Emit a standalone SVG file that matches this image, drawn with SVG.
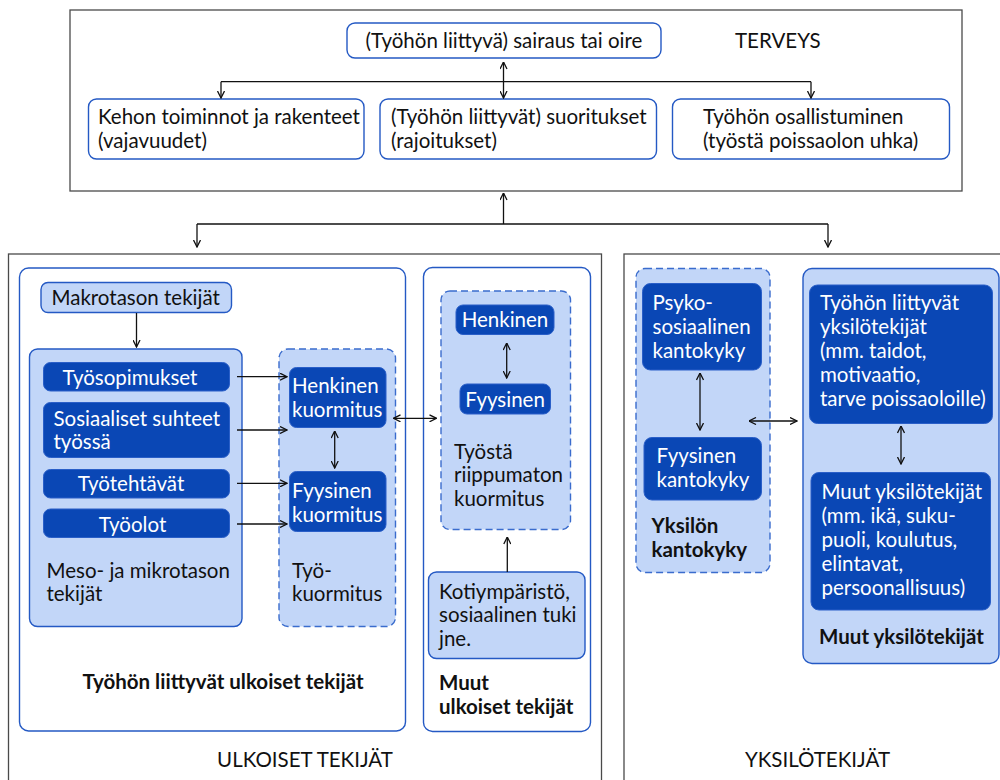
<svg xmlns="http://www.w3.org/2000/svg" width="1000" height="780" viewBox="0 0 1000 780">
  <defs>
    <style>
      text { font-family: Lato, "Liberation Sans", sans-serif; font-size: 20.5px; fill: #111; }
      .w { fill: #fff; }
      .b { font-weight: bold; }
      .mid { text-anchor: middle; }
      .frame { fill: none; stroke: #4a4a4a; stroke-width: 1.3; }
      .panel { fill: #fff; stroke: #2459c4; stroke-width: 1.4; }
      .light { fill: #c2d6f8; stroke: #2459c4; stroke-width: 1.4; }
      .dash { fill: #c2d6f8; stroke: #3a6ccd; stroke-width: 1.4; stroke-dasharray: 7 4; }
      .dark { fill: #0a47b5; stroke: #2a5fc8; stroke-width: 1; }
      .con { fill: none; stroke: #111; stroke-width: 1.3; }
    </style>
    <marker id="arr" viewBox="0 0 8 8" refX="7.5" refY="4" markerWidth="8" markerHeight="8" markerUnits="userSpaceOnUse" orient="auto-start-reverse">
      <path d="M0.5,0.5 L7.5,4 L0.5,7.5" fill="none" stroke="#111" stroke-width="1.3"/>
    </marker>
  </defs>

  <!-- outer frames -->
  <g id="terveys">
    <rect class="frame" x="70" y="10" width="892" height="181"/>
    <text x="735" y="48">TERVEYS</text>
  </g>
  <g id="ulkoiset">
    <rect class="frame" x="8.5" y="254" width="593" height="560"/>
    <text class="mid" x="305" y="767">ULKOISET TEKIJÄT</text>
  </g>
  <g id="yksilotekijat">
    <rect class="frame" x="624" y="254" width="420" height="560"/>
    <text class="mid" x="817.5" y="767">YKSILÖTEKIJÄT</text>
  </g>

  <!-- health row -->
  <g id="sairaus">
    <rect class="panel" x="347" y="23" width="314" height="35" rx="8"/>
    <text class="mid" x="504" y="48">(Työhön liittyvä) sairaus tai oire</text>
  </g>
  <g id="kehon">
    <rect class="panel" x="88.5" y="99" width="275.5" height="60" rx="8"/>
    <text x="98" y="124">Kehon toiminnot ja rakenteet</text>
    <text x="98" y="147.5">(vajavuudet)</text>
  </g>
  <g id="suoritukset">
    <rect class="panel" x="380" y="99" width="276.5" height="60" rx="8"/>
    <text x="391" y="124">(Työhön liittyvät) suoritukset</text>
    <text x="391" y="147.5">(rajoitukset)</text>
  </g>
  <g id="osallistuminen">
    <rect class="panel" x="672.5" y="99" width="277" height="60" rx="8"/>
    <text x="703" y="124">Työhön osallistuminen</text>
    <text x="703" y="147.5">(työstä poissaolon uhka)</text>
  </g>

  <!-- work-related external factors -->
  <g id="tyohon-liittyvat">
    <rect class="panel" x="19.5" y="268" width="386" height="463" rx="9"/>
    <text class="b mid" x="223" y="689">Työhön liittyvät ulkoiset tekijät</text>
  </g>
  <g id="makrotaso">
    <rect class="light" x="41" y="282.5" width="190.5" height="30" rx="7"/>
    <text x="51.5" y="304.5">Makrotason tekijät</text>
  </g>
  <g id="mesotaso">
    <rect class="light" x="29.5" y="349" width="212.5" height="277.5" rx="8"/>
    <text x="46.5" y="577.5">Meso- ja mikrotason</text>
    <text x="46.5" y="601">tekijät</text>
  </g>
  <g id="tyosopimukset">
    <rect class="dark" x="43.5" y="362.5" width="186" height="28.5" rx="7"/>
    <text class="w mid" x="130" y="384.5">Työsopimukset</text>
  </g>
  <g id="sosiaaliset">
    <rect class="dark" x="43.5" y="402.5" width="186" height="55" rx="7"/>
    <text class="w" x="53.5" y="425.5">Sosiaaliset suhteet</text>
    <text class="w" x="53.5" y="449">työssä</text>
  </g>
  <g id="tyotehtavat">
    <rect class="dark" x="43.5" y="469.5" width="186" height="28.5" rx="7"/>
    <text class="w mid" x="131" y="491">Työtehtävät</text>
  </g>
  <g id="tyoolot">
    <rect class="dark" x="43.5" y="509" width="186" height="28.5" rx="7"/>
    <text class="w mid" x="132.5" y="531.5">Työolot</text>
  </g>
  <g id="tyokuormitus">
    <rect class="dash" x="279" y="349" width="116.5" height="277.5" rx="9"/>
    <text x="292" y="577.5">Työ-</text>
    <text x="292" y="601">kuormitus</text>
  </g>
  <g id="henkinen-kuormitus">
    <rect class="dark" x="289.5" y="367.5" width="96.5" height="60" rx="7"/>
    <text class="w" x="292" y="392.5">Henkinen</text>
    <text class="w" x="292" y="416.5">kuormitus</text>
  </g>
  <g id="fyysinen-kuormitus">
    <rect class="dark" x="289.5" y="471.5" width="96.5" height="60" rx="7"/>
    <text class="w" x="292" y="498">Fyysinen</text>
    <text class="w" x="292" y="521.5">kuormitus</text>
  </g>

  <!-- other external factors -->
  <g id="muut-ulkoiset">
    <rect class="panel" x="423.5" y="267.5" width="167" height="464" rx="9"/>
    <text class="b" x="439" y="690">Muut</text>
    <text class="b" x="439" y="713.5">ulkoiset tekijät</text>
  </g>
  <g id="tyosta-riippumaton">
    <rect class="dash" x="441" y="291" width="129.5" height="238.5" rx="9"/>
    <text x="454" y="458.5">Työstä</text>
    <text x="454" y="482">riippumaton</text>
    <text x="454" y="505.5">kuormitus</text>
  </g>
  <g id="henkinen">
    <rect class="dark" x="456" y="305" width="98" height="29.5" rx="7"/>
    <text class="w mid" x="505" y="326.5">Henkinen</text>
  </g>
  <g id="fyysinen">
    <rect class="dark" x="460" y="384" width="90.5" height="30" rx="7"/>
    <text class="w mid" x="505" y="406.5">Fyysinen</text>
  </g>
  <g id="kotiymparisto">
    <rect class="light" x="428.5" y="572" width="156.5" height="86.5" rx="8"/>
    <text x="439" y="598.5">Kotiympäristö,</text>
    <text x="439" y="622">sosiaalinen tuki</text>
    <text x="439" y="645.5">jne.</text>
  </g>

  <!-- individual factors -->
  <g id="yksilon-kantokyky">
    <rect class="dash" x="636" y="268.5" width="134" height="304" rx="9"/>
    <text class="b" x="651.5" y="533">Yksilön</text>
    <text class="b" x="651.5" y="556.5">kantokyky</text>
  </g>
  <g id="psykososiaalinen">
    <rect class="dark" x="642.5" y="283.5" width="119" height="86.5" rx="8"/>
    <text class="w" x="652.5" y="309.5">Psyko-</text>
    <text class="w" x="652.5" y="333.5">sosiaalinen</text>
    <text class="w" x="652.5" y="357.5">kantokyky</text>
  </g>
  <g id="fyysinen-kantokyky">
    <rect class="dark" x="644" y="437.5" width="117.5" height="62.5" rx="8"/>
    <text class="w" x="656.5" y="463">Fyysinen</text>
    <text class="w" x="656.5" y="487">kantokyky</text>
  </g>
  <g id="muut-yksilotekijat">
    <rect class="light" x="803" y="268.5" width="196" height="395" rx="9"/>
    <text class="b mid" x="901.5" y="644">Muut yksilötekijät</text>
  </g>
  <g id="tyohon-liittyvat-yksilotekijat">
    <rect class="dark" x="809.5" y="285" width="183" height="138.5" rx="8"/>
    <text class="w" x="820" y="309.5">Työhön liittyvät</text>
    <text class="w" x="820" y="333.5">yksilötekijät</text>
    <text class="w" x="820" y="357.5">(mm. taidot,</text>
    <text class="w" x="820" y="381.5">motivaatio,</text>
    <text class="w" x="820" y="405.5">tarve poissaoloille)</text>
  </g>
  <g id="muut-yksilotekijat-sisalto">
    <rect class="dark" x="811" y="472.5" width="179.5" height="137.5" rx="8"/>
    <text class="w" x="821.5" y="498.5">Muut yksilötekijät</text>
    <text class="w" x="821.5" y="522.5">(mm. ikä, suku-</text>
    <text class="w" x="821.5" y="546.5">puoli, koulutus,</text>
    <text class="w" x="821.5" y="570.5">elintavat,</text>
    <text class="w" x="821.5" y="594.5">persoonallisuus)</text>
  </g>

  <!-- connectors -->
  <g id="connectors">
    <path class="con" d="M503.5,62 V98" marker-start="url(#arr)" marker-end="url(#arr)"/>
    <path class="con" d="M221,81.7 H811"/>
    <path class="con" d="M221,81.7 V98" marker-end="url(#arr)"/>
    <path class="con" d="M811,81.7 V98" marker-end="url(#arr)"/>

    <path class="con" d="M503.5,224 V193" marker-end="url(#arr)"/>
    <path class="con" d="M197,224 H828"/>
    <path class="con" d="M197,224 V247" marker-end="url(#arr)"/>
    <path class="con" d="M828,224 V247" marker-end="url(#arr)"/>

    <path class="con" d="M136.5,313 V347" marker-end="url(#arr)"/>
    <path class="con" d="M237,376.7 H287" marker-end="url(#arr)"/>
    <path class="con" d="M237,430 H287" marker-end="url(#arr)"/>
    <path class="con" d="M237,483.3 H287" marker-end="url(#arr)"/>
    <path class="con" d="M237,524 H287" marker-end="url(#arr)"/>
    <path class="con" d="M334.7,431 V468" marker-start="url(#arr)" marker-end="url(#arr)"/>
    <path class="con" d="M393.5,418.3 H436.5" marker-start="url(#arr)" marker-end="url(#arr)"/>

    <path class="con" d="M506.7,343 V378" marker-start="url(#arr)" marker-end="url(#arr)"/>
    <path class="con" d="M507.3,572 V537" marker-end="url(#arr)"/>

    <path class="con" d="M700,373 V430" marker-start="url(#arr)" marker-end="url(#arr)"/>
    <path class="con" d="M749,421 H797" marker-start="url(#arr)" marker-end="url(#arr)"/>
    <path class="con" d="M901,426 V464" marker-start="url(#arr)" marker-end="url(#arr)"/>
  </g>
</svg>
